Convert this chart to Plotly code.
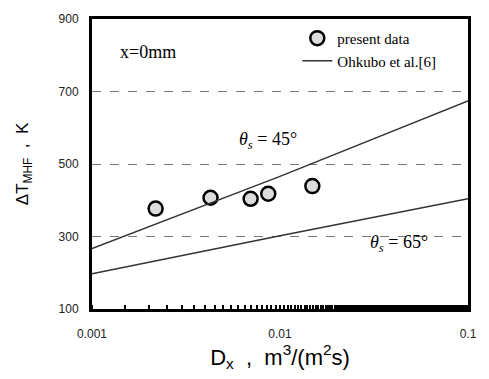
import math
import plotly.graph_objects as go

# present data
dx_data = [0.00218, 0.00427, 0.00698, 0.00866, 0.01486]
dt_data = [377, 407, 404, 418, 439]

# Ohkubo et al. correlation lines
dx_line = [0.001, 0.01, 0.1]
dt_45 = [267, 466, 674]
dt_65 = [197, 302, 404]

xtick_vals = [0.001, 0.01, 0.1]
xtick_text = ["0.001", "0.01", "0.1"]
ytick_vals = [100, 300, 500, 700, 900]

# label anchor points (data units)
label_45 = (0.00866, 566)
label_65 = (0.0427, 280)

serif = "Liberation Serif, Times New Roman, serif"
sans = "Liberation Sans, Arial, sans-serif"

fig = go.Figure()
fig.add_trace(go.Scatter(
    x=dx_data, y=dt_data, mode="markers", name="present data",
    marker=dict(symbol="circle", size=14, color="#dcdcdc",
                line=dict(color="black", width=2.5)),
))
fig.add_trace(go.Scatter(
    x=dx_line, y=dt_45, mode="lines", name="Ohkubo et al.[6]",
    line=dict(color="#333333", width=1.5),
))
fig.add_trace(go.Scatter(
    x=dx_line, y=dt_65, mode="lines", name="Ohkubo et al.[6]",
    line=dict(color="#333333", width=1.5), showlegend=False,
))

fig.add_annotation(x=0.148, y=0.885, xref="paper", yref="paper",
                   xanchor="center", yanchor="middle",
                   text="x=0mm", showarrow=False,
                   font=dict(family=serif, size=18, color="black"))
fig.add_annotation(x=math.log10(label_45[0]), y=label_45[1],
                   xanchor="center", yanchor="middle",
                   text="<i>θ<sub>s</sub></i> = 45°",
                   showarrow=False, font=dict(family=serif, size=18, color="black"))
fig.add_annotation(x=math.log10(label_65[0]), y=label_65[1],
                   xanchor="center", yanchor="middle",
                   text="<i>θ<sub>s</sub></i> = 65°",
                   showarrow=False, font=dict(family=serif, size=18, color="black"))

fig.update_layout(
    width=489, height=379,
    margin=dict(l=92, r=12, t=12, b=70),
    paper_bgcolor="white", plot_bgcolor="white",
    showlegend=True,
    legend=dict(x=0.546, y=0.99, xanchor="left", yanchor="top",
                bgcolor="rgba(0,0,0,0)", font=dict(family=serif, size=15, color="black"),
                itemwidth=30, tracegroupgap=0),
    xaxis=dict(
        type="log", range=[-3, -1],
        tickvals=xtick_vals, ticktext=xtick_text,
        ticks="", ticklabelstandoff=12,
        tickfont=dict(family=sans, size=12, color="#222"),
        showline=True, mirror=True, linewidth=3, linecolor="black",
        showgrid=False, zeroline=False,
        minor=dict(ticks="inside", ticklen=4, tickwidth=2, tickcolor="black", showgrid=False),
        title=dict(text="D<sub>x</sub>  ,  m<sup>3</sup>/(m<sup>2</sup>s)",
                   font=dict(family=sans, size=22, color="black"), standoff=8),
    ),
    yaxis=dict(
        range=[100, 900],
        tickvals=ytick_vals, ticks="", ticklabelstandoff=8,
        tickfont=dict(family=sans, size=12, color="#222"),
        showline=True, mirror=True, linewidth=3, linecolor="black",
        showgrid=True, gridcolor="#777", griddash="dash", gridwidth=1,
        zeroline=False,
        title=dict(text="ΔT<sub>MHF</sub>  ,  K",
                   font=dict(family=sans, size=17, color="black"), standoff=26),
    ),
)

fig.write_html("out.html")
